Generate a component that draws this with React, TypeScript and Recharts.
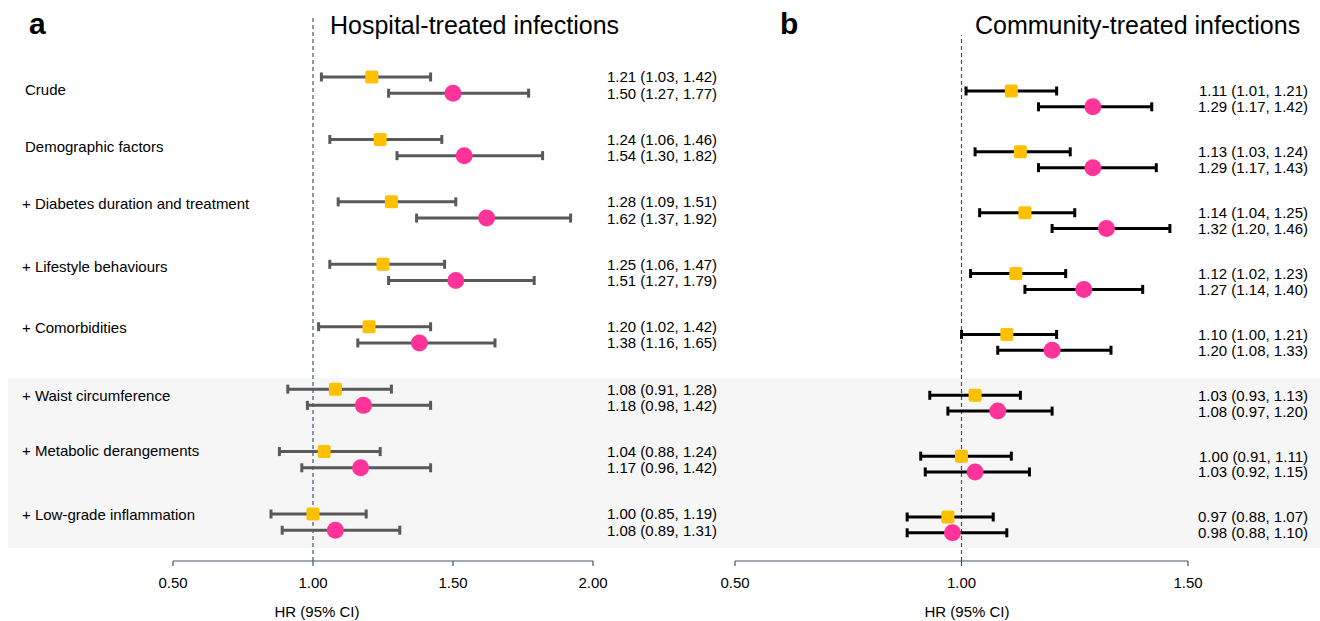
import React from 'react';
import { ScatterChart, Scatter, XAxis, YAxis, ErrorBar, ReferenceLine } from 'recharts';

const models = [
  'Crude',
  'Demographic factors',
  '+ Diabetes duration and treatment',
  '+ Lifestyle behaviours',
  '+ Comorbidities',
  '+ Waist circumference',
  '+ Metabolic derangements',
  '+ Low-grade inflammation',
];

// Panel a: hospital-treated infections
const hospSquareHR = [1.21, 1.24, 1.28, 1.25, 1.2, 1.08, 1.04, 1.0];
const hospSquareLo = [1.03, 1.06, 1.09, 1.06, 1.02, 0.91, 0.88, 0.85];
const hospSquareHi = [1.42, 1.46, 1.51, 1.47, 1.42, 1.28, 1.24, 1.19];
const hospCircleHR = [1.5, 1.54, 1.62, 1.51, 1.38, 1.18, 1.17, 1.08];
const hospCircleLo = [1.27, 1.3, 1.37, 1.27, 1.16, 0.98, 0.96, 0.89];
const hospCircleHi = [1.77, 1.82, 1.92, 1.79, 1.65, 1.42, 1.42, 1.31];

// Panel b: community-treated infections
const commSquareHR = [1.11, 1.13, 1.14, 1.12, 1.1, 1.03, 1.0, 0.97];
const commSquareLo = [1.01, 1.03, 1.04, 1.02, 1.0, 0.93, 0.91, 0.88];
const commSquareHi = [1.21, 1.24, 1.25, 1.23, 1.21, 1.13, 1.11, 1.07];
const commCircleHR = [1.29, 1.29, 1.32, 1.27, 1.2, 1.08, 1.03, 0.98];
const commCircleLo = [1.17, 1.17, 1.2, 1.14, 1.08, 0.97, 0.92, 0.88];
const commCircleHi = [1.42, 1.43, 1.46, 1.4, 1.33, 1.2, 1.15, 1.1];

const hospTicks = [0.5, 1.0, 1.5, 2.0];
const commTicks = [0.5, 1.0, 1.5];

// layout-only constants
const labelNudge = [13, 7, 2, 2, 1, 6, -1, 1];
const CIRCLE_OFFSET = 0.26;

const FONT = '"Liberation Sans", Arial, sans-serif';
const YELLOW = '#FFC000';
const PINK = '#FF3399';
const AXIS = '#44546A';

const fmt = (v: number) => v.toFixed(2);

function build(hr: number[], lo: number[], hi: number[], offset: number) {
  return hr.map((h, i) => ({
    hr: h,
    row: i + offset,
    idx: i,
    err: [+(h - lo[i]).toFixed(4), +(hi[i] - h).toFixed(4)],
    text: `${fmt(h)} (${fmt(lo[i])}, ${fmt(hi[i])})`,
  }));
}

const hospSq = build(hospSquareHR, hospSquareLo, hospSquareHi, 0);
const hospCi = build(hospCircleHR, hospCircleLo, hospCircleHi, CIRCLE_OFFSET);
const commSq = build(commSquareHR, commSquareLo, commSquareHi, 0);
const commCi = build(commCircleHR, commCircleLo, commCircleHi, CIRCLE_OFFSET);

const makeSquare = (textX: number, anchor: 'start' | 'end', withLabels: boolean) => (props: any) => {
  const { cx, cy, payload } = props;
  const lbl = models[payload.idx];
  return (
    <g>
      <rect x={cx - 6.5} y={cy - 6.5} width={13} height={13} rx={2} fill={YELLOW} />
      <text x={textX} y={cy} textAnchor={anchor} dominantBaseline="central" fontSize={15} fontFamily={FONT} fill="#000">
        {payload.text}
      </text>
      {withLabels && (
        <text
          x={lbl.startsWith('+') ? 22 : 25}
          y={cy + labelNudge[payload.idx]}
          dominantBaseline="central"
          fontSize={15}
          fontFamily={FONT}
          fill="#000"
        >
          {lbl}
        </text>
      )}
    </g>
  );
};

const makeCircle = (textX: number, anchor: 'start' | 'end') => (props: any) => {
  const { cx, cy, payload } = props;
  return (
    <g>
      <circle cx={cx} cy={cy} r={8.5} fill={PINK} />
      <text x={textX} y={cy} textAnchor={anchor} dominantBaseline="central" fontSize={15} fontFamily={FONT} fill="#000">
        {payload.text}
      </text>
    </g>
  );
};

const tickStyle = { fontSize: 15, fontFamily: FONT, fill: '#000' };

function Panel(props: {
  width: number;
  sq: any[];
  ci: any[];
  domainX: [number, number];
  ticks: number[];
  domainY: [number, number];
  margin: any;
  barColor: string;
  textX: number;
  anchor: 'start' | 'end';
  withLabels: boolean;
}) {
  const { width, sq, ci, domainX, ticks, domainY, margin, barColor, textX, anchor, withLabels } = props;
  return (
    <ScatterChart width={width} height={621} margin={margin}>
      <XAxis
        type="number"
        dataKey="hr"
        domain={domainX}
        ticks={ticks}
        tickFormatter={fmt}
        height={60}
        stroke={AXIS}
        tickSize={5}
        tickMargin={11}
        tick={tickStyle}
        axisLine={{ stroke: AXIS, strokeWidth: 1.2 }}
        tickLine={{ stroke: AXIS, strokeWidth: 1.2 }}
        interval={0}
      />
      <YAxis type="number" dataKey="row" domain={domainY} reversed hide width={0} />
      <ReferenceLine x={1} stroke={AXIS} strokeDasharray="4 3" strokeWidth={1.2} />
      <Scatter data={sq} isAnimationActive={false} shape={makeSquare(textX, anchor, withLabels)}>
        <ErrorBar dataKey="err" direction="x" width={4.5} strokeWidth={3} stroke={barColor} isAnimationActive={false} />
      </Scatter>
      <Scatter data={ci} isAnimationActive={false} shape={makeCircle(textX, anchor)}>
        <ErrorBar dataKey="err" direction="x" width={4.5} strokeWidth={3} stroke={barColor} isAnimationActive={false} />
      </Scatter>
    </ScatterChart>
  );
}

export default function App() {
  return (
    <div style={{ position: 'absolute', left: 0, top: 0, width: 1320, height: 621, background: '#fff', overflow: 'hidden' }}>
      <div style={{ position: 'absolute', left: 8, top: 378, width: 1312, height: 170, background: '#F6F6F6' }} />
      <div style={{ position: 'absolute', left: 0, top: 0 }}>
        <Panel
          width={760}
          sq={hospSq}
          ci={hospCi}
          domainX={[0.5, 2.0]}
          ticks={hospTicks}
          domainY={[-0.993, 7.753]}
          margin={{ top: 15, right: 167, bottom: 0, left: 173 }}
          barColor="#595959"
          textX={607}
          anchor="start"
          withLabels={true}
        />
      </div>
      <div style={{ position: 'absolute', left: 660, top: 0 }}>
        <Panel
          width={660}
          sq={commSq}
          ci={commCi}
          domainX={[0.5, 1.5]}
          ticks={commTicks}
          domainY={[-0.92, 7.723]}
          margin={{ top: 35, right: 132, bottom: 0, left: 75 }}
          barColor="#000000"
          textX={648}
          anchor="end"
          withLabels={false}
        />
      </div>
      <svg width={1320} height={621} style={{ position: 'absolute', left: 0, top: 0, pointerEvents: 'none' }}>
        <text x={29} y={34} fontSize={30} fontWeight="bold" fontFamily={FONT} fill="#000">a</text>
        <text x={330} y={34} fontSize={25} fontFamily={FONT} fill="#000">Hospital-treated infections</text>
        <text x={780} y={34} fontSize={30} fontWeight="bold" fontFamily={FONT} fill="#000">b</text>
        <text x={975} y={34} fontSize={25} fontFamily={FONT} fill="#000">Community-treated infections</text>
        <text x={317} y={611} textAnchor="middle" dominantBaseline="central" fontSize={15} fontFamily={FONT} fill="#000">HR (95% CI)</text>
        <text x={967} y={611} textAnchor="middle" dominantBaseline="central" fontSize={15} fontFamily={FONT} fill="#000">HR (95% CI)</text>
      </svg>
    </div>
  );
}
